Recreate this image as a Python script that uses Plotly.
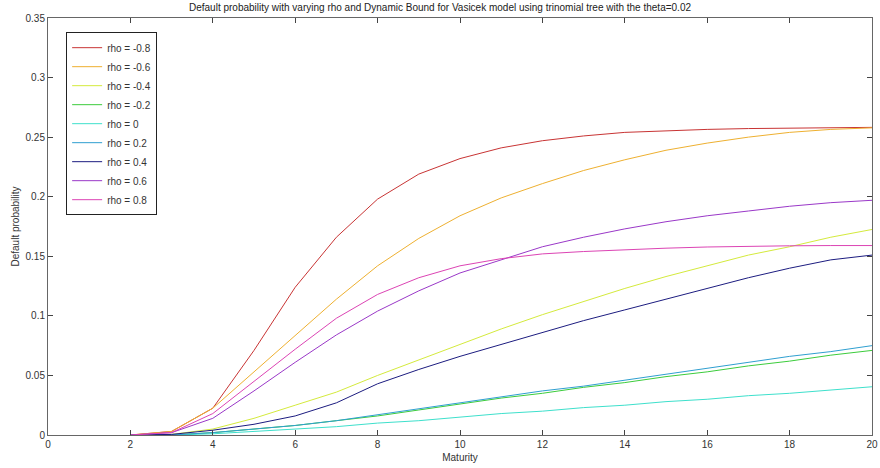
import plotly.graph_objects as go

maturity = list(range(2, 21))

rho_labels = ["rho = -0.8", "rho = -0.6", "rho = -0.4", "rho = -0.2", "rho = 0",
              "rho = 0.2", "rho = 0.4", "rho = 0.6", "rho = 0.8"]

dp_m08 = [0, 0.003, 0.0225, 0.071, 0.124, 0.166, 0.198, 0.219, 0.232, 0.241, 0.247,
          0.251, 0.254, 0.2555, 0.2565, 0.2572, 0.2577, 0.258, 0.2582]
dp_m06 = [0, 0.003, 0.0225, 0.053, 0.083, 0.114, 0.142, 0.165, 0.184, 0.199, 0.211,
          0.222, 0.231, 0.239, 0.245, 0.250, 0.254, 0.2565, 0.2578]
dp_m04 = [0, 0.0005, 0.005, 0.014, 0.025, 0.036, 0.050, 0.063, 0.076, 0.089, 0.101,
          0.112, 0.123, 0.133, 0.142, 0.151, 0.158, 0.166, 0.1725]
dp_m02 = [0, 0, 0.002, 0.005, 0.008, 0.012, 0.016, 0.021, 0.026, 0.031, 0.035,
          0.040, 0.044, 0.049, 0.053, 0.058, 0.062, 0.067, 0.071]
dp_0 = [0, 0, 0.001, 0.003, 0.005, 0.007, 0.010, 0.012, 0.015, 0.018, 0.020,
        0.023, 0.025, 0.028, 0.030, 0.033, 0.035, 0.038, 0.0405]
dp_p02 = [0, 0, 0.002, 0.005, 0.008, 0.012, 0.017, 0.022, 0.027, 0.032, 0.037,
          0.041, 0.046, 0.051, 0.056, 0.061, 0.066, 0.070, 0.075]
dp_p04 = [0, 0.0005, 0.004, 0.009, 0.016, 0.027, 0.043, 0.055, 0.066, 0.076, 0.086,
          0.096, 0.105, 0.114, 0.123, 0.132, 0.140, 0.147, 0.151]
dp_p06 = [0, 0.002, 0.014, 0.037, 0.061, 0.084, 0.104, 0.121, 0.136, 0.147, 0.158,
          0.166, 0.173, 0.179, 0.184, 0.188, 0.192, 0.195, 0.197]
dp_p08 = [0, 0.002, 0.018, 0.045, 0.072, 0.098, 0.118, 0.132, 0.142, 0.148, 0.152,
          0.154, 0.1555, 0.1568, 0.1578, 0.1585, 0.1588, 0.159, 0.159]

series = [dp_m08, dp_m06, dp_m04, dp_m02, dp_0, dp_p02, dp_p04, dp_p06, dp_p08]
colors = ["#c83434", "#eeb030", "#d4ea3c", "#3ccc3c", "#3ee0cc",
          "#2f9fd0", "#1c1c80", "#9a38c8", "#dc44b4"]

x_ticks = list(range(0, 21, 2))
y_ticks = [0, 0.05, 0.1, 0.15, 0.2, 0.25, 0.3, 0.35]
y_tick_text = ["0", "0.05", "0.1", "0.15", "0.2", "0.25", "0.3", "0.35"]

fig = go.Figure()
for name, vals, col in zip(rho_labels, series, colors):
    fig.add_trace(go.Scatter(x=maturity, y=vals, mode="lines", name=name,
                             line=dict(color=col, width=1)))

font_family = "Liberation Sans, Arial, sans-serif"
fig.update_layout(
    width=880, height=468,
    paper_bgcolor="white", plot_bgcolor="white",
    margin=dict(l=48, r=8, t=18, b=33, autoexpand=False),
    title=dict(text="Default probability with varying rho and Dynamic Bound for Vasicek model using trinomial tree with the theta=0.02",
               x=0.5, xanchor="center", y=0.983, yanchor="middle",
               font=dict(family=font_family, size=10, color="#222222")),
    font=dict(family=font_family, size=10, color="#333333"),
    showlegend=True,
    legend=dict(x=0.022, y=0.966, xanchor="left", yanchor="top",
                bordercolor="#222222", borderwidth=1, bgcolor="white",
                font=dict(family=font_family, size=10, color="#333333"),
                tracegroupgap=0, itemwidth=30),
    xaxis=dict(range=[0, 20], tickvals=x_ticks, ticks="inside", ticklen=5,
               showgrid=False, zeroline=False, showline=True, mirror="ticks",
               linecolor="#666666", tickcolor="#444444", linewidth=1,
               automargin=False,
               title=dict(text="Maturity", standoff=4, font=dict(size=10)),
               tickfont=dict(size=10, color="#333333")),
    yaxis=dict(range=[0, 0.35], tickvals=y_ticks, ticktext=y_tick_text,
               ticks="inside", ticklen=5,
               showgrid=False, zeroline=False, showline=True, mirror="ticks",
               linecolor="#666666", tickcolor="#444444", linewidth=1,
               automargin=False,
               title=dict(text="Default probability", standoff=4, font=dict(size=10)),
               tickfont=dict(size=10, color="#333333")),
)

fig.write_html("out.html",
               config={"displayModeBar": False},
               post_script="document.body.style.margin='0';document.body.style.padding='0';")
